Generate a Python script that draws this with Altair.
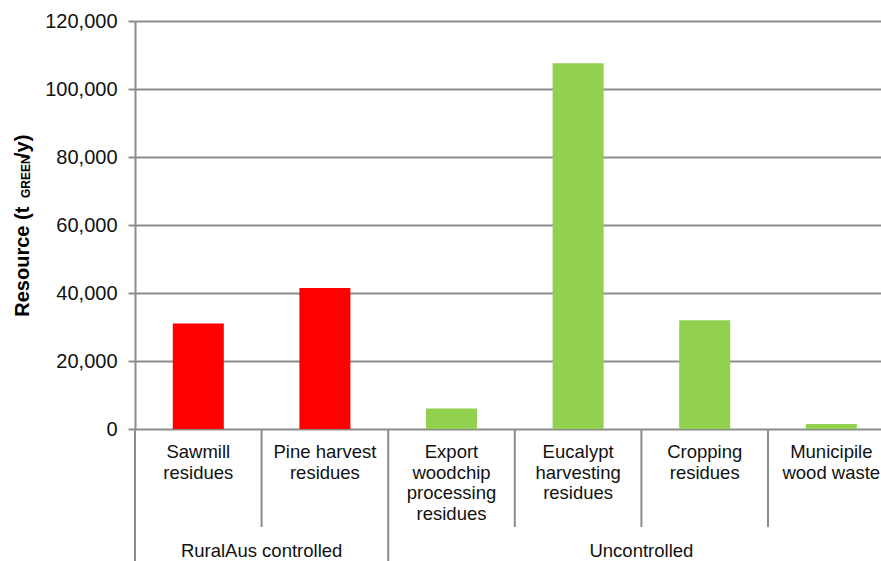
import altair as alt
import pandas as pd

# ---- data -------------------------------------------------------------
categories = [
    "Sawmill\nresidues",
    "Pine harvest\nresidues",
    "Export\nwoodchip\nprocessing\nresidues",
    "Eucalypt\nharvesting\nresidues",
    "Cropping\nresidues",
    "Municipile\nwood waste",
]
resource = [31000, 41500, 6000, 107600, 32000, 1500]
groups = [
    "RuralAus controlled",
    "RuralAus controlled",
    "Uncontrolled",
    "Uncontrolled",
    "Uncontrolled",
    "Uncontrolled",
]
group_names = ["RuralAus controlled", "Uncontrolled"]
group_colors = ["#FF0000", "#92D050"]
y_ticks = [0, 20000, 40000, 60000, 80000, 100000, 120000]

# ---- layout -----------------------------------------------------------
PAD_LEFT, PAD_TOP = 135, 21
PLOT_W, PLOT_H = 746, 408
STEP = 126.6                      # pixels per category slot
X_MAX = PLOT_W / STEP             # last slot runs past the right edge
BAR_HALF = 0.2015                 # half bar width, in slots
FONT = "Liberation Sans"
GREY = "#8C8C8C"

n = len(categories)
bars = pd.DataFrame({
    "category": categories,
    "resource": resource,
    "group": groups,
    "x0": [i + 0.5 - BAR_HALF for i in range(n)],
    "x1": [i + 0.5 + BAR_HALF for i in range(n)],
    "center": [i + 0.5 for i in range(n)],
})

# vertical separators of the two-level category axis
sep_rows = []
for i in range(n + 1):
    is_group_edge = i == 0 or i == n or groups[i - 1] != groups[i]
    sep_rows.append({"pos": i, "kind": "group" if is_group_edge else "item"})
seps = pd.DataFrame(sep_rows)

grp_rows = []
for g in group_names:
    idx = [i for i, v in enumerate(groups) if v == g]
    grp_rows.append({"group": g, "center": (idx[0] + idx[-1] + 1) / 2})
grp_df = pd.DataFrame(grp_rows)

xscale = alt.Scale(domain=[0, X_MAX], nice=False, zero=False)

bar_layer = alt.Chart(bars).mark_bar().encode(
    x=alt.X("x0:Q", scale=xscale, axis=None),
    x2="x1:Q",
    y=alt.Y(
        "resource:Q",
        scale=alt.Scale(domain=[0, 120000], nice=False),
        axis=alt.Axis(
            values=y_ticks,
            labelExpr="format(datum.value, ',.0f')",
            title=None,
            labelFont=FONT,
            labelFontSize=20,
            labelColor="#111111",
            labelPadding=11,
            tickSize=7,
            tickWidth=2,
            tickColor=GREY,
            domainColor=GREY,
            domainWidth=2,
            grid=True,
            gridColor=GREY,
            gridWidth=2,
        ),
    ),
    y2=alt.datum(0),
    color=alt.Color(
        "group:N",
        scale=alt.Scale(domain=group_names, range=group_colors),
        legend=None,
    ),
)

item_seps = alt.Chart(seps[seps["kind"] == "item"]).mark_rule(
    color=GREY, strokeWidth=2
).encode(
    x=alt.X("pos:Q", scale=xscale, axis=None),
    y=alt.value(PLOT_H),
    y2=alt.value(506),
)

group_seps = alt.Chart(seps[seps["kind"] == "group"]).mark_rule(
    color=GREY, strokeWidth=2
).encode(
    x=alt.X("pos:Q", scale=xscale, axis=None),
    y=alt.value(PLOT_H),
    y2=alt.value(545),
)

cat_labels = alt.Chart(bars).mark_text(
    font=FONT, fontSize=18.5, color="#111111", lineBreak="\n",
    lineHeight=20.5, align="center", baseline="alphabetic",
).encode(
    x=alt.X("center:Q", scale=xscale, axis=None),
    y=alt.value(437.3),
    text="category:N",
)

grp_labels = alt.Chart(grp_df).mark_text(
    font=FONT, fontSize=18.5, color="#111111", align="center",
    baseline="alphabetic",
).encode(
    x=alt.X("center:Q", scale=xscale, axis=None),
    y=alt.value(535.7),
    text="group:N",
)

# y-axis title with a subscript, as three rotated runs
def title_run(text, x, y, size):
    return alt.Chart(pd.DataFrame({"t": [text]})).mark_text(
        font=FONT, fontSize=size, fontWeight="bold", color="#000000",
        angle=270, align="left", baseline="alphabetic",
    ).encode(x=alt.value(x), y=alt.value(y), text="t:N")

title_main = title_run("Resource (t", 29 - PAD_LEFT, 316.7 - PAD_TOP, 20)
title_sub = title_run("GREEN", 30 - PAD_LEFT, 198 - PAD_TOP, 12)
title_end = title_run("/y)", 29 - PAD_LEFT, 158 - PAD_TOP, 20)

chart = alt.layer(
    bar_layer, item_seps, group_seps, cat_labels, grp_labels,
    title_main, title_sub, title_end,
).properties(
    width=PLOT_W,
    height=PLOT_H,
    autosize=alt.AutoSizeParams(type="none"),
    padding={"left": PAD_LEFT, "top": PAD_TOP, "right": 0, "bottom": 561 - PAD_TOP - PLOT_H},
    background="white",
).configure_view(stroke=None)

chart.save("out.html", embed_options={"renderer": "svg", "actions": False})
